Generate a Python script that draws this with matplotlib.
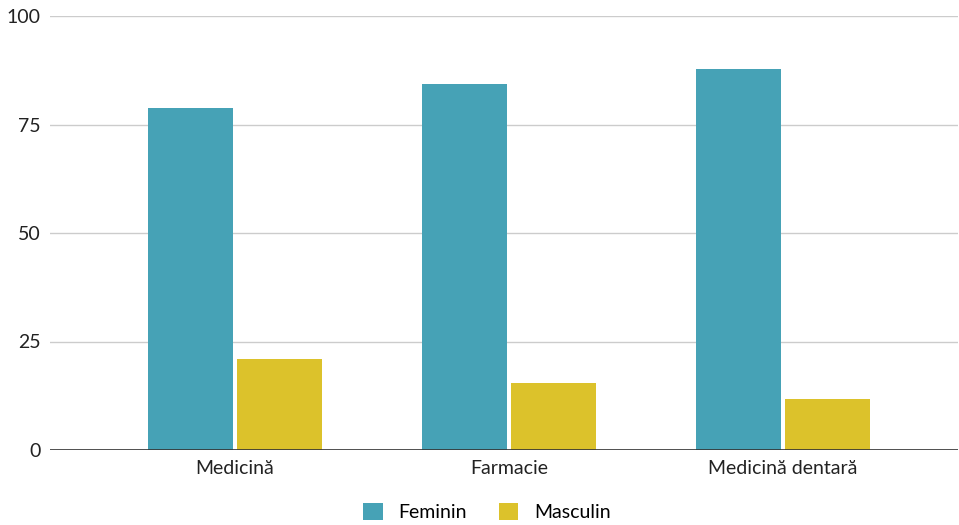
import matplotlib
matplotlib.use("Agg")
import matplotlib.pyplot as plt
import numpy as np

categories = ["Medicină", "Farmacie", "Medicină dentară"]
feminin = [78.8, 84.4, 87.9]
masculin = [20.9, 15.4, 11.8]
series_names = ["Feminin", "Masculin"]
yticks = [0, 25, 50, 75, 100]

plt.rcParams["font.family"] = ["Lato", "DejaVu Sans"]

fig = plt.figure(figsize=(9.59, 5.25), dpi=100)
ax = fig.add_axes([50 / 959, 75 / 525, 908 / 959, 434 / 525])

x = np.arange(len(categories))
w = 0.31
off = 0.162
ax.bar(x - off, feminin, width=w, color="#46a2b6", label=series_names[0], zorder=3)
ax.bar(x + off, masculin, width=w, color="#dcc22b", label=series_names[1], zorder=3)

ax.set_xlim(-0.675, 2.64)
ax.set_ylim(0, 100)
ax.set_yticks(yticks)
ax.set_xticks(x)
ax.set_xticklabels(categories)
ax.yaxis.grid(True, color="#cccccc", linewidth=1, zorder=0)
ax.axhline(0, color="#333333", linewidth=1.2, zorder=4)
for s in ax.spines.values():
    s.set_visible(False)
ax.tick_params(axis="both", length=0, labelsize=14, colors="#222222")
ax.tick_params(axis="y", pad=7)
ax.tick_params(axis="x", pad=7)

ax.legend(loc="center", bbox_to_anchor=(437 / 908, -62 / 434), ncol=2,
          frameon=False, fontsize=14, handlelength=1.0, handleheight=1.0,
          columnspacing=1.65, handletextpad=0.8, borderpad=0.2)

fig.savefig("out.png", dpi=100)
